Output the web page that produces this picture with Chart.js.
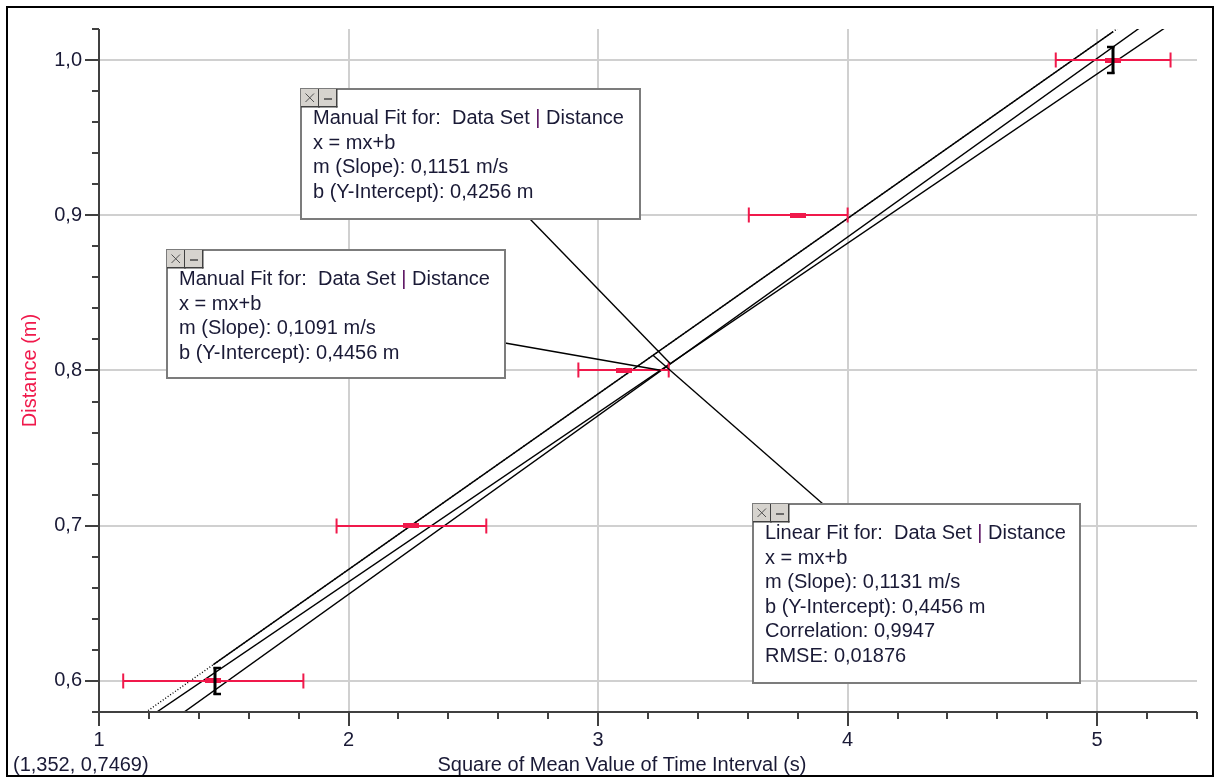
<!DOCTYPE html>
<html>
<head>
<meta charset="utf-8">
<script src="https://cdn.jsdelivr.net/npm/chart.js@4.4.1/dist/chart.umd.min.js"></script>
<style>
  html, body { margin: 0; padding: 0; background: #fff; }
  #wrap { position: relative; width: 1218px; height: 779px; }
</style>
</head>
<body>
<div id="wrap"><canvas id="c"></canvas></div>
<script>
// Square of mean time interval (s) against distance (m), with x uncertainties
const timeSquared = [1.458, 2.252, 3.102, 3.802, 5.064];
const distance = [0.6, 0.7, 0.8, 0.9, 1.0];
const timeSquaredErr = [0.361, 0.300, 0.181, 0.198, 0.230];

// Linear regression and the two manual fits (slope m, intercept b)
const linearFit = [0.1131, 0.4456];
const manualFitA = [0.1151, 0.4256];
const manualFitB = [0.1091, 0.4456];
const linearStats = [0.9947, 0.01876]; // correlation, RMSE

// Axis ranges and texts
const xRange = [1, 5.4];
const yRange = [0.58, 1.02];
const xTitle = 'Square of Mean Value of Time Interval (s)';
const yTitle = 'Distance (m)';
const readout = '(1,352, 0,7469)';

const RED = '#f0194b';
const TEXT = '#1a1a36';
const GRID = '#d0d0d0';
const AXIS = '#404040';
const FONT = '"Liberation Sans", Arial, sans-serif';

const comma = (v, d) => v.toFixed(d).replace('.', ',');
const isWhole = (v, k) => Math.abs(v * k - Math.round(v * k)) < 1e-6;

function fitLines(kind, fit, extra) {
  const lines = [kind + ' Fit for:  Data Set | Distance', 'x = mx+b',
    'm (Slope): ' + comma(fit[0], 4) + ' m/s',
    'b (Y-Intercept): ' + comma(fit[1], 4) + ' m'];
  return extra ? lines.concat(extra) : lines;
}

// Annotation boxes: pixel layout, and where each leader meets its fit line (x value)
const boxes = [
  { x: 301, y: 89, w: 339, h: 130, from: [229, 130], fit: manualFitA, anchorX: 3.29,
    lines: fitLines('Manual', manualFitA) },
  { x: 167, y: 250, w: 338, h: 128, from: [338, 93], fit: manualFitB, anchorX: 3.25,
    lines: fitLines('Manual', manualFitB) },
  { x: 753, y: 504, w: 327, h: 179, from: [70, 0], fit: linearFit, anchorX: 3.22,
    lines: fitLines('Linear', linearFit, ['Correlation: ' + comma(linearStats[0], 4), 'RMSE: ' + comma(linearStats[1], 5)]) }
];

// Point marker: short thick red bar
const marker = document.createElement('canvas');
marker.width = 16; marker.height = 5;
(function () { const m = marker.getContext('2d'); m.fillStyle = RED; m.fillRect(0, 0, 16, 5); })();

const lineAt = (fit, x) => ({ x, y: fit[0] * x + fit[1] });
const fitDataset = (data, dash) => ({
  type: 'scatter', data, showLine: true, pointRadius: 0, borderColor: '#000',
  borderWidth: 1.4, borderDash: dash || [], fill: false
});

const decor = {
  id: 'decor',
  afterDatasetsDraw(chart) {
    const ctx = chart.ctx, xs = chart.scales.x, ys = chart.scales.y;
    ctx.save();
    // horizontal error bars
    ctx.strokeStyle = RED; ctx.lineWidth = 2;
    timeSquared.forEach((x, i) => {
      const py = Math.round(ys.getPixelForValue(distance[i]));
      const l = xs.getPixelForValue(x - timeSquaredErr[i]);
      const r = xs.getPixelForValue(x + timeSquaredErr[i]);
      ctx.beginPath();
      ctx.moveTo(l, py); ctx.lineTo(r, py);
      ctx.moveTo(l, py - 7.5); ctx.lineTo(l, py + 7.5);
      ctx.moveTo(r, py - 7.5); ctx.lineTo(r, py + 7.5);
      ctx.stroke();
    });
    // brackets marking the fitted range
    ctx.strokeStyle = '#000';
    [[0, 1], [timeSquared.length - 1, -1]].forEach(([i, dir]) => {
      const px = Math.round(xs.getPixelForValue(timeSquared[i])) + (dir > 0 ? 2 : 0);
      const py = Math.round(ys.getPixelForValue(distance[i]));
      ctx.lineWidth = 3;
      ctx.beginPath(); ctx.moveTo(px, py - 14); ctx.lineTo(px, py + 14); ctx.stroke();
      ctx.lineWidth = 2.5;
      ctx.beginPath();
      ctx.moveTo(px - dir * 1.5, py - 13); ctx.lineTo(px + dir * 6, py - 13);
      ctx.moveTo(px - dir * 1.5, py + 13); ctx.lineTo(px + dir * 6, py + 13);
      ctx.stroke();
    });
    // axis lines and tick marks
    ctx.strokeStyle = AXIS; ctx.lineWidth = 2;
    const L = chart.chartArea.left, B = chart.chartArea.bottom;
    ctx.beginPath();
    ctx.moveTo(L, chart.chartArea.top); ctx.lineTo(L, B); ctx.lineTo(chart.chartArea.right, B);
    ys.ticks.forEach(t => {
      const p = Math.round(ys.getPixelForValue(t.value));
      ctx.moveTo(L, p); ctx.lineTo(L - (isWhole(t.value, 10) ? 14 : 7), p);
    });
    xs.ticks.forEach(t => {
      const p = Math.round(xs.getPixelForValue(t.value));
      ctx.moveTo(p, B); ctx.lineTo(p, B + (isWhole(t.value, 1) ? 14 : 7));
    });
    ctx.stroke();
    // annotation boxes with leaders
    boxes.forEach(b => {
      const a = lineAt(b.fit, b.anchorX);
      ctx.strokeStyle = '#000'; ctx.lineWidth = 1.4;
      ctx.beginPath();
      ctx.moveTo(b.x + b.from[0], b.y + b.from[1]);
      ctx.lineTo(xs.getPixelForValue(a.x), ys.getPixelForValue(a.y));
      ctx.stroke();
      ctx.fillStyle = '#fff'; ctx.fillRect(b.x, b.y, b.w, b.h);
      ctx.strokeStyle = '#7c7c7c'; ctx.lineWidth = 2; ctx.strokeRect(b.x, b.y, b.w, b.h);
      // close / minimise buttons
      for (let k = 0; k < 2; k++) {
        const bx = b.x + k * 18, by = b.y;
        ctx.fillStyle = '#d6d3ce'; ctx.fillRect(bx, by, 18, 18);
        ctx.fillStyle = '#404040';
        ctx.fillRect(bx + 17, by, 1.5, 18.5); ctx.fillRect(bx, by + 17, 18.5, 1.5);
        ctx.strokeStyle = '#505050'; ctx.lineWidth = 1;
        ctx.beginPath();
        if (k === 0) { ctx.moveTo(bx + 4.5, by + 4.5); ctx.lineTo(bx + 13, by + 13); ctx.moveTo(bx + 13, by + 4.5); ctx.lineTo(bx + 4.5, by + 13); }
        else { ctx.lineWidth = 1.6; ctx.moveTo(bx + 5, by + 10); ctx.lineTo(bx + 13, by + 10); }
        ctx.stroke();
      }
      ctx.font = '20px ' + FONT; ctx.textBaseline = 'middle'; ctx.textAlign = 'left';
      b.lines.forEach((s, i) => {
        const ty = b.y + 29.5 + i * 24.6;
        let tx = b.x + 12;
        if (i === 0) {
          const parts = s.split('|');
          ctx.fillStyle = TEXT; ctx.fillText(parts[0], tx, ty); tx += ctx.measureText(parts[0]).width;
          ctx.fillStyle = '#5a1060'; ctx.fillText('|', tx, ty); tx += ctx.measureText('|').width;
          ctx.fillStyle = TEXT; ctx.fillText(parts[1], tx, ty);
        } else {
          ctx.fillStyle = TEXT; ctx.fillText(s, tx, ty);
        }
      });
    });
    ctx.restore();
  },
  afterDraw(chart) {
    const ctx = chart.ctx;
    ctx.save();
    ctx.font = '20px ' + FONT; ctx.fillStyle = TEXT; ctx.textBaseline = 'middle';
    ctx.textAlign = 'center'; ctx.fillText(xTitle, 622, 765);
    ctx.textAlign = 'left'; ctx.fillText(readout, 13, 765);
    ctx.strokeStyle = '#000'; ctx.lineWidth = 2;
    ctx.strokeRect(7, 7, 1206, 769);
    ctx.restore();
  }
};

Chart.defaults.font.family = FONT;
Chart.defaults.font.size = 20;

new Chart(document.getElementById('c'), {
  type: 'scatter',
  data: {
    datasets: [
      { type: 'scatter', data: timeSquared.map((x, i) => ({ x, y: distance[i] })),
        pointStyle: marker, pointRadius: 8, borderWidth: 0, backgroundColor: RED },
      fitDataset([lineAt(linearFit, timeSquared[0]), lineAt(linearFit, timeSquared[timeSquared.length - 1])]),
      fitDataset([lineAt(linearFit, xRange[0]), lineAt(linearFit, xRange[1])], [1, 2]),
      fitDataset([lineAt(manualFitA, xRange[0]), lineAt(manualFitA, xRange[1])]),
      fitDataset([lineAt(manualFitB, xRange[0]), lineAt(manualFitB, xRange[1])])
    ]
  },
  options: {
    responsive: true, maintainAspectRatio: false, animation: false, devicePixelRatio: 1,
    events: [],
    layout: { padding: { left: 0, top: 29, right: 21, bottom: 0 } },
    plugins: { legend: { display: false }, tooltip: { enabled: false } },
    scales: {
      x: {
        type: 'linear', min: xRange[0], max: xRange[1],
        ticks: { stepSize: 0.2, maxTicksLimit: 1000, autoSkip: false, maxRotation: 0, padding: 2, color: TEXT,
          callback: v => isWhole(v, 1) ? String(Math.round(v)) : '' },
        grid: { color: c => (c.tick && isWhole(c.tick.value, 1) && c.tick.value > xRange[0]) ? GRID : 'rgba(0,0,0,0)',
          lineWidth: 2, tickLength: 14, tickColor: 'rgba(0,0,0,0)' },
        border: { display: false },
        afterFit: s => { s.height = 67; }
      },
      y: {
        type: 'linear', min: yRange[0], max: yRange[1],
        ticks: { stepSize: 0.02, maxTicksLimit: 1000, autoSkip: false, padding: 3, color: TEXT,
          callback: v => isWhole(v, 10) ? comma(v, 1) : '' },
        grid: { color: c => (c.tick && isWhole(c.tick.value, 10)) ? GRID : 'rgba(0,0,0,0)',
          lineWidth: 2, tickLength: 14, tickColor: 'rgba(0,0,0,0)' },
        border: { display: false },
        title: { display: true, text: yTitle, color: RED, font: { size: 20 }, padding: { top: 18, bottom: 0 } },
        afterFit: s => { s.width = 99; }
      }
    }
  },
  plugins: [decor]
});
</script>
</body>
</html>
